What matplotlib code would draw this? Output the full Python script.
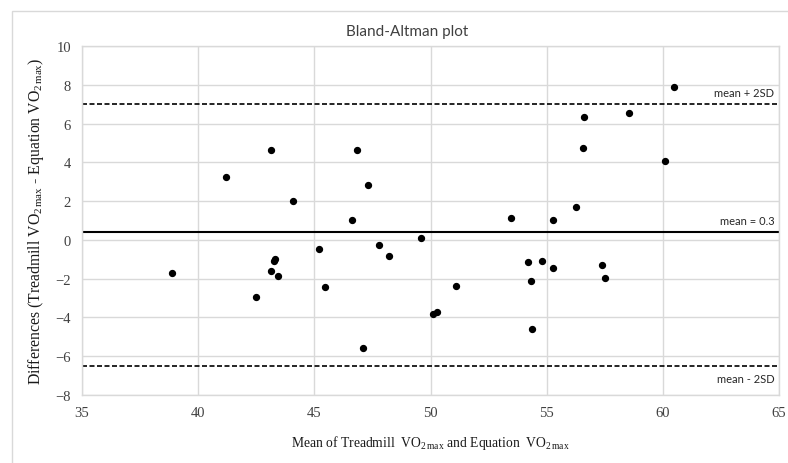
import matplotlib
matplotlib.use("Agg")
import matplotlib.pyplot as plt
from matplotlib.patches import Rectangle

# Bland-Altman data: mean of the two methods (x) and their difference (y)
means = [41.19, 43.12, 44.10, 46.82, 47.30, 46.61,
         60.48, 56.60, 58.56, 56.57, 60.08, 56.28, 53.48, 55.29, 49.59,
         38.87, 42.48, 43.12, 43.27, 43.32, 43.45, 45.22, 45.45, 47.11, 47.80, 48.20,
         51.11, 50.12, 50.28, 54.20, 54.79, 55.26, 54.34, 54.38, 57.40, 57.51]
diffs = [3.25, 4.64, 2.03, 4.64, 2.85, 1.03,
         7.87, 6.34, 6.55, 4.74, 4.07, 1.72, 1.12, 1.03, 0.08,
         -1.69, -2.94, -1.58, -1.07, -0.98, -1.84, -0.46, -2.41, -5.59, -0.24, -0.81,
         -2.37, -3.83, -3.71, -1.15, -1.10, -1.46, -2.11, -4.59, -1.32, -1.98]

mean_diff = 0.4
upper_loa = 7.0
lower_loa = -6.5

x_ticks = [35, 40, 45, 50, 55, 60, 65]
y_ticks = [-8, -6, -4, -2, 0, 2, 4, 6, 8, 10]

plt.rcParams['mathtext.fontset'] = 'custom'
plt.rcParams['mathtext.rm'] = 'Liberation Serif'
plt.rcParams['mathtext.it'] = 'Liberation Serif:italic'

fig = plt.figure(figsize=(7.88, 4.64), dpi=100)
ax = fig.add_axes([82 / 788, 1 - 396 / 464, 697 / 788, 349 / 464])

grid_color = '#d9d9d9'
ax.set_xlim(35, 65)
ax.set_ylim(-8, 10)
ax.set_xticks(x_ticks)
ax.set_yticks(y_ticks)
ax.grid(True, color=grid_color, linewidth=1)
ax.set_axisbelow(True)
for side in ax.spines.values():
    side.set_color(grid_color)
    side.set_linewidth(1)
ax.tick_params(length=0, pad=8, labelsize=10.5, labelcolor='#404040')
for lab in ax.get_xticklabels() + ax.get_yticklabels():
    lab.set_family('Liberation Serif')

# reference lines
ax.axhline(mean_diff, color='black', linewidth=1.5)
ax.axhline(upper_loa, color='black', linewidth=1.2, linestyle=(0, (3, 1.5)))
ax.axhline(lower_loa, color='black', linewidth=1.2, linestyle=(0, (3, 1.5)))

ax.scatter(means, diffs, s=18, color='black', zorder=3)

ax.text(64.8, upper_loa + 0.3, 'mean + 2SD', ha='right', va='bottom',
        fontsize=8, family='Lato', color='#262626')
ax.text(64.8, mean_diff + 0.3, 'mean = 0.3', ha='right', va='bottom',
        fontsize=8, family='Lato', color='#262626')
ax.text(64.8, lower_loa - 0.35, 'mean - 2SD', ha='right', va='top',
        fontsize=8, family='Lato', color='#262626')

ax.set_xlabel(r'Mean of Treadmill  VO$_{2\,\mathregular{max}}$ and Equation  VO$_{2\,\mathregular{max}}$',
              family='Liberation Serif', fontsize=9.8, labelpad=10, color='#1a1a1a')
ax.set_ylabel(r'Differences (Treadmill VO$_{2\,\mathregular{max}}$ - Equation VO$_{2\,\mathregular{max}}$)',
              family='Liberation Serif', fontsize=11.3, labelpad=7, color='#1a1a1a')

fig.text(407 / 788, 1 - 32 / 464, 'Bland-Altman plot', ha='center', va='center',
         fontsize=11, family='Lato', color='#404040')

# light frame around the chart area
fig.patches.append(Rectangle((12 / 788, -0.05), 1.0, 1.05 - 12 / 464,
                             transform=fig.transFigure, fill=False,
                             edgecolor=grid_color, linewidth=1))

plt.savefig('out.png', dpi=100)
